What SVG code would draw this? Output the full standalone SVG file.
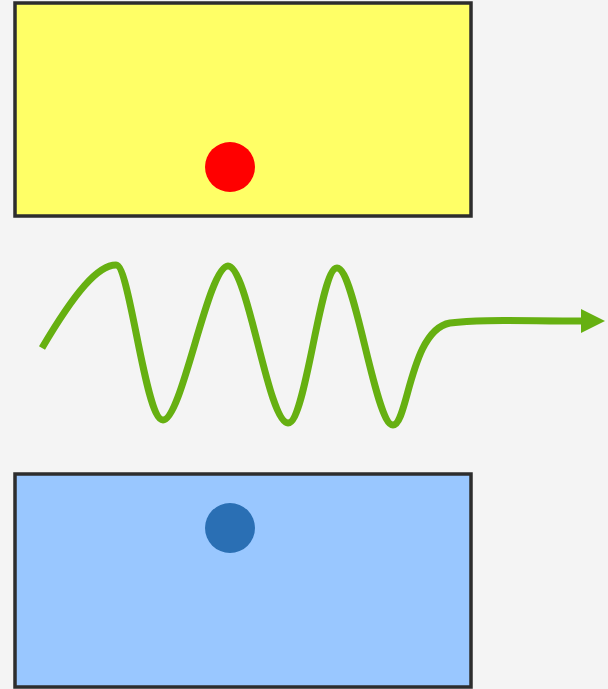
<svg xmlns="http://www.w3.org/2000/svg" width="608" height="689" viewBox="0 0 608 689">
<style>
.box{stroke:#2d2d2d;stroke-width:3.5}
.wave{fill:none;stroke:#66b011;stroke-width:7;stroke-linecap:butt;stroke-linejoin:round}
</style>
<defs>
<marker id="arr" markerUnits="userSpaceOnUse" markerWidth="26" markerHeight="26" refX="2" refY="12" orient="auto" viewBox="0 0 26 24">
<path d="M0,0 L24,12 L0,24 Z" fill="#66b011"/>
</marker>
</defs>
<rect width="608" height="689" fill="#f4f4f4"/>
<g id="top-plate">
<rect class="box" x="15" y="3" width="456" height="213" fill="#ffff66"/>
<circle cx="230" cy="167" r="25" fill="#ff0000"/>
</g>
<g id="bottom-plate">
<rect class="box" x="15" y="474" width="456" height="213" fill="#99c7ff"/>
<circle cx="230" cy="528" r="25" fill="#2a6fb4"/>
</g>
<g id="connectors">
<path class="wave" marker-end="url(#arr)" d="M42,348 C75,292 98,265 116,265 C130,265 145,420 163,420 C182,420 208,266 228,266 C248,266 268,423 288,423 C306,423 320,268 337,268 C355,268 375,425 393,425 C408,425 410,330 450,323 C480,319 520,321 583,321"/>
</g>
</svg>
